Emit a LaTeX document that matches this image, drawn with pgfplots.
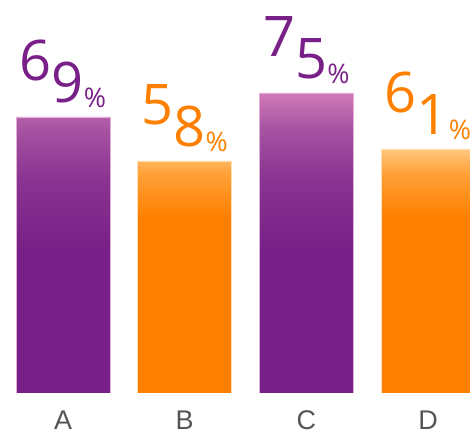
\documentclass[border=0pt]{standalone}
\usepackage{pgfplots}
\pgfplotsset{compat=1.18}
\usepackage{fontspec}
\setmainfont{Open Sans}
\newfontfamily\tickfont{Liberation Sans}
\definecolor{pdark}{HTML}{782087}
\definecolor{plight}{HTML}{CF7BB9}
\colorlet{pm1}{plight!55!pdark}
\colorlet{pm2}{plight!22!pdark}
\definecolor{odark}{HTML}{FF8000}
\definecolor{olight}{HTML}{FFC87E}
\colorlet{om1}{olight!45!odark}
\definecolor{tickgray}{HTML}{555555}
\pgfdeclareverticalshading{pshade}{100bp}{color(0bp)=(pdark); color(49bp)=(pdark); color(61bp)=(pm2); color(69bp)=(pm1); color(75bp)=(plight); color(100bp)=(plight)}
\pgfdeclareverticalshading{oshade}{100bp}{color(0bp)=(odark); color(61bp)=(odark); color(70bp)=(om1); color(75bp)=(olight); color(100bp)=(olight)}
\def\splitpct#1#2\relax{%
  \raisebox{22pt}{\fontsize{56}{56}\selectfont #1}%
  {\fontsize{56}{56}\selectfont #2}%
  \raisebox{-5pt}{\fontsize{27}{27}\selectfont\%}}
\begin{document}
\begin{tikzpicture}
\begin{axis}[
  name=ax,
  scale only axis,
  width=470pt, height=393pt,
  xmin=-0.518, xmax=3.345,
  ymin=0, ymax=98.25,
  ybar, bar width=94pt, bar shift=0pt,
  axis line style={draw=none},
  tick style={draw=none},
  ytick=\empty,
  xtick={0,1,2,3},
  xticklabels={A,B,C,D},
  xticklabel style={font=\tickfont\fontsize{27}{27}\selectfont, text=tickgray, anchor=center, yshift=-22.5pt},
  point meta=explicit symbolic,
  nodes near coords={\edef\tmp{\pgfplotspointmeta}\expandafter\splitpct\tmp\relax},
  every node near coord/.append style={anchor=base, yshift=14pt, inner sep=0pt},
]
\addplot[draw=plight!60!white, line width=0.6pt, shade, shading=pshade,
  nodes near coords style={text=pdark}]
  coordinates {(0,69) [69] (2,75) [75]};
\addplot[draw=olight!60!white, line width=0.6pt, shade, shading=oshade,
  nodes near coords style={text=odark}]
  coordinates {(1,58) [58] (3,61) [61]};
\end{axis}
\pgfresetboundingbox
\path[use as bounding box] (ax.north west) rectangle ([yshift=-44pt]ax.south east);
\end{tikzpicture}
\end{document}
